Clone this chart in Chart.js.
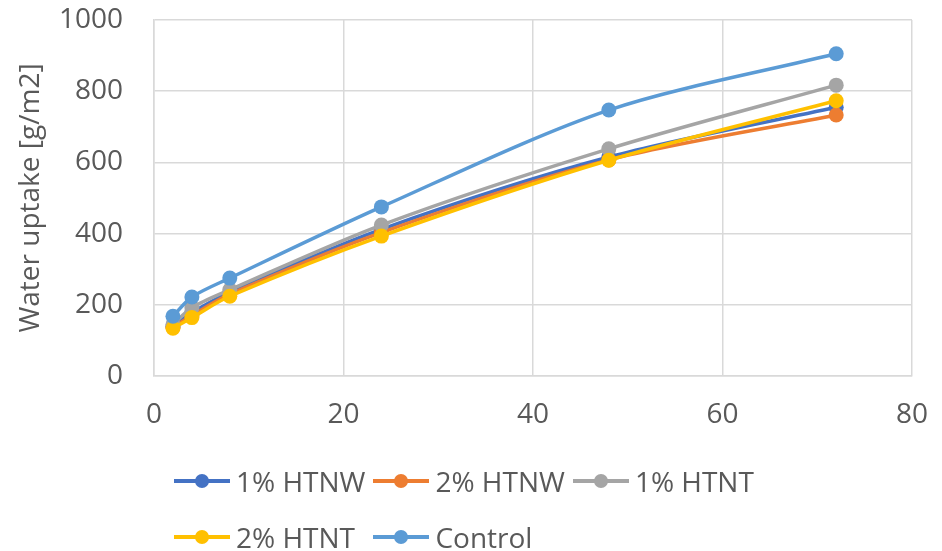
<!DOCTYPE html>
<html>
<head>
<meta charset="utf-8">
<script src="https://cdn.jsdelivr.net/npm/chart.js@4/dist/chart.umd.min.js"></script>
<style>
  html, body { margin: 0; padding: 0; background: #fff; }
  #wrap { position: relative; width: 942px; height: 551px; }
  #legend {
    position: absolute; left: 174px; top: 462px;
    display: grid; grid-template-columns: auto auto auto; row-gap: 18px; column-gap: 8px;
    font-family: "Open Sans", "Noto Sans", sans-serif; font-size: 28px; color: #595959;
    line-height: 38px;
  }
  .item { display: flex; align-items: center; height: 38px; }
  .mk { position: relative; width: 56px; height: 16px; margin-right: 6px; flex: none; }
  .mk .ln { position: absolute; left: 0; right: 0; top: 6px; height: 4px; }
  .mk .dt { position: absolute; left: 21px; top: 1px; width: 14px; height: 14px; border-radius: 50%; }
</style>
</head>
<body>
<div id="wrap">
  <canvas id="c" width="942" height="551"></canvas>
  <div id="legend"></div>
</div>
<script>
// Immersion time (h)
const hours = [2, 4, 8, 24, 48, 72];

// Water uptake [g/m2] per formulation
const htnw1 = [140, 178, 235, 412, 615, 755];
const htnw2 = [137, 170, 230, 403, 607, 733];
const htnt1 = [145, 192, 242, 424, 638, 817];
const htnt2 = [134, 164, 224, 393, 606, 773];
const control = [168, 222, 275, 475, 747, 905];

const seriesNames = ['1% HTNW', '2% HTNW', '1% HTNT', '2% HTNT', 'Control'];
const seriesValues = [htnw1, htnw2, htnt1, htnt2, control];
const seriesColors = ['#4472C4', '#ED7D31', '#A5A5A5', '#FFC000', '#5B9BD5'];

const xTicks = [0, 20, 40, 60, 80];
const yTicks = [0, 200, 400, 600, 800, 1000];

const font = { family: '"Open Sans", "Noto Sans", sans-serif', size: 28 };
const textColor = '#595959';
const gridColor = '#D9D9D9';

const datasets = seriesValues.map((vals, i) => ({
  label: seriesNames[i],
  data: hours.map((h, j) => ({ x: h, y: vals[j] })),
  borderColor: seriesColors[i],
  backgroundColor: seriesColors[i],
  borderWidth: 3.5,
  pointRadius: 7.5,
  pointHoverRadius: 7.5,
  pointBorderWidth: 0,
  tension: 0.3,
  showLine: true,
  // later series are drawn on top
  order: seriesValues.length - i
}));

new Chart(document.getElementById('c'), {
  type: 'scatter',
  data: { datasets },
  options: {
    responsive: false,
    animation: false,
    layout: { padding: { left: 0, right: 30, top: 20, bottom: 115 } },
    plugins: { legend: { display: false }, tooltip: { enabled: false } },
    scales: {
      x: {
        type: 'linear',
        min: xTicks[0], max: xTicks[xTicks.length - 1],
        afterBuildTicks: s => { s.ticks = xTicks.map(v => ({ value: v })); },
        afterFit: s => { s.height = 60; s.paddingLeft = 0; s.paddingRight = 0; },
        grid: { color: gridColor, lineWidth: 1.5, drawTicks: false },
        border: { color: gridColor, width: 1.5 },
        ticks: { color: textColor, font, padding: 22, callback: v => String(v) }
      },
      y: {
        type: 'linear',
        min: yTicks[0], max: yTicks[yTicks.length - 1],
        afterBuildTicks: s => { s.ticks = yTicks.map(v => ({ value: v })); },
        afterFit: s => { s.width = 154; s.paddingTop = 0; s.paddingBottom = 0; },
        grid: { color: gridColor, lineWidth: 1.5, drawTicks: false },
        border: { color: gridColor, width: 1.5 },
        ticks: { color: textColor, font, padding: 31, callback: v => String(v) },
        title: { display: true, text: 'Water uptake [g/m2]', color: textColor, font, padding: { top: 14, bottom: 0 } }
      }
    }
  }
});

// Legend below the plot: line with a dot, then the series name
const legend = document.getElementById('legend');
seriesNames.forEach((name, i) => {
  const item = document.createElement('div');
  item.className = 'item';
  const mk = document.createElement('div');
  mk.className = 'mk';
  const ln = document.createElement('div');
  ln.className = 'ln';
  ln.style.background = seriesColors[i];
  const dt = document.createElement('div');
  dt.className = 'dt';
  dt.style.background = seriesColors[i];
  mk.appendChild(ln); mk.appendChild(dt);
  const tx = document.createElement('span');
  tx.textContent = name;
  item.appendChild(mk); item.appendChild(tx);
  legend.appendChild(item);
});
</script>
</body>
</html>
